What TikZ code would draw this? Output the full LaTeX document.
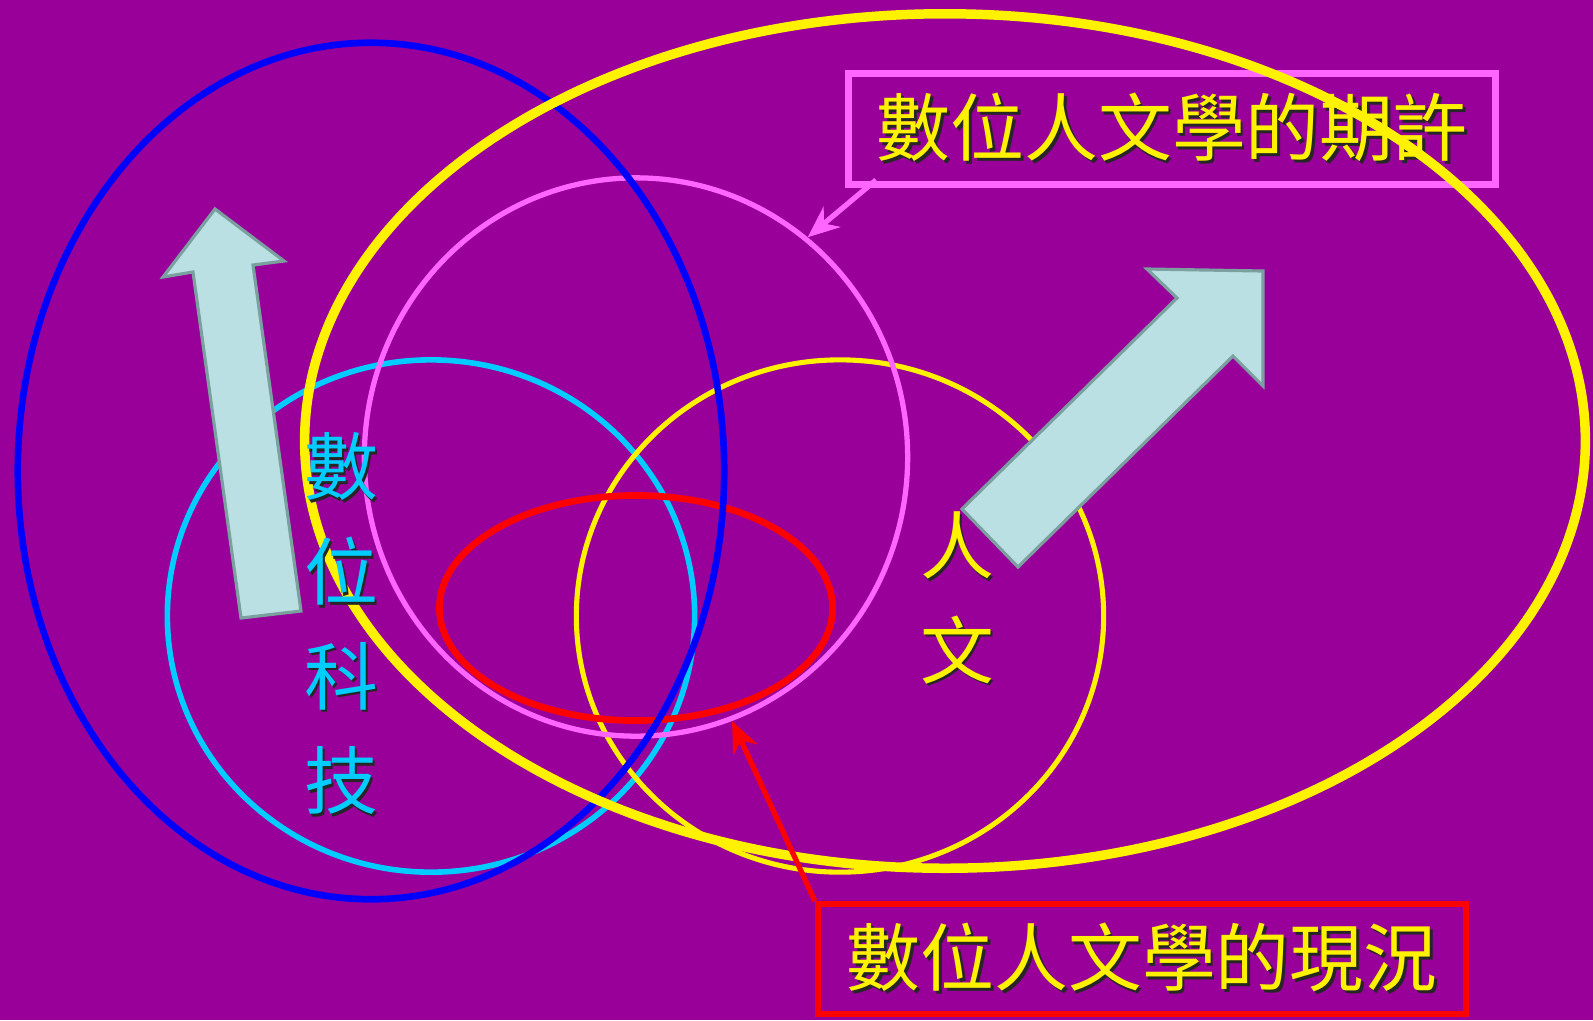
\documentclass[tikz,border=0pt]{standalone}
\usepackage{fontspec}
\newfontfamily\cjk{Noto Sans CJK TC}
\usetikzlibrary{shapes.geometric,arrows.meta}
\definecolor{bgpurple}{RGB}{153,0,153}
\definecolor{pinkline}{RGB}{255,102,255}
\definecolor{cyanline}{RGB}{0,204,255}
\definecolor{arrowfill}{RGB}{187,224,227}
\definecolor{arrowedge}{RGB}{122,160,160}
\newcommand\shadowed[1]{\rlap{\kern0.8pt\raisebox{-0.8pt}{\color{black!85}#1}}#1}
\tikzset{
  ring/.style={draw, ellipse, inner sep=0pt},
  bigarrow/.style={fill=arrowfill, draw=arrowedge, line width=0.9pt, line join=miter},
  labelbox/.style={draw, inner sep=0pt, text=yellow, font=\cjk\fontsize{21pt}{25pt}\selectfont},
  vtext/.style={align=center, inner sep=0pt, font=\cjk\fontsize{21pt}{29.8pt}\selectfont},
  pointer/.style={line width=1.5pt, -{Stealth[length=9pt,width=7.5pt]}}
}
\begin{document}
\begin{tikzpicture}[x=0.01cm,y=-0.01cm]
\fill[bgpurple] (0,0) rectangle (1593,1020);

\node[ring, draw=cyanline, line width=1.6pt, minimum width=5.27cm, minimum height=5.12cm] (digi) at (431,616) {};
\node[ring, draw=yellow, line width=1.45pt, minimum width=5.27cm, minimum height=5.12cm] (human) at (840,616) {};
\node[ring, draw=pinkline, line width=1.5pt, minimum width=5.43cm, minimum height=5.58cm] (expect) at (636,457) {};
\node[ring, draw=red, line width=1.9pt, minimum width=3.93cm, minimum height=2.25cm] (status) at (636,608) {};
\node[ring, draw=blue, line width=1.9pt, minimum width=7.06cm, minimum height=8.56cm] (tech) at (371,471) {};

% the two wide arrows
\filldraw[bigarrow] (215,209) -- (284,261) -- (253,265) -- (301,611) -- (241,618) -- (193,272) -- (163,277) -- cycle;
\filldraw[bigarrow] (1263,271) -- (1263,386) -- (1233,356) -- (1018,567) -- (962,509) -- (1177,298) -- (1147,269) -- cycle;

\node[labelbox, draw=pinkline, line width=2pt, minimum width=6.47cm, minimum height=1.10cm] (hope) at (1172,129) {\shadowed{數位人文學的期許}};
\node[ring, draw=yellow, line width=2.7pt, minimum width=12.80cm, minimum height=8.54cm] (field) at (945,441) {};

\node[vtext, text=cyanline] (digitext) at (341,625) {\shadowed{數}\\\shadowed{位}\\\shadowed{科}\\\shadowed{技}};
\node[vtext, text=yellow] (humtext) at (957,599) {\shadowed{人}\\\shadowed{文}};

\node[labelbox, draw=red, line width=1.7pt, minimum width=6.48cm, minimum height=1.10cm] (now) at (1142,959) {\shadowed{數位人文學的現況}};

\coordinate (hopefoot) at (876,180);
\draw[pointer, pinkline] (hopefoot) -- (expect.52);
\draw[pointer, red] (now.north west) -- (expect.-70);
\end{tikzpicture}
\end{document}
